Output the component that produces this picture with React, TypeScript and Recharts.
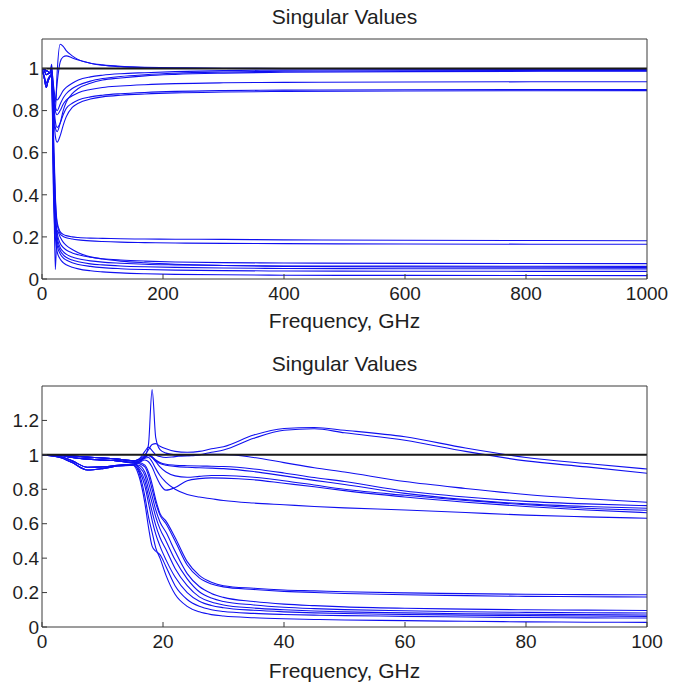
import React from 'react'
import { LineChart, Line, XAxis, YAxis, ReferenceLine } from 'recharts'

// ---- top panel: 0..1000 GHz ----
const X_TOP = [0, 4, 7, 10, 13, 16, 19, 22, 25, 30, 35, 40, 50, 60, 80, 100, 130, 170, 220, 300, 400, 600, 1000]

const T1 = [1, 0.995, 0.99, 0.985, 0.98, 0.99, 0.85, 0.8, 0.98, 1.115, 1.105, 1.085, 1.06, 1.042, 1.025, 1.017, 1.01, 1.006, 1.003, 1.001, 1.0, 0.999, 0.998]
const T2 = [1, 0.99, 0.97, 0.975, 0.98, 1.0, 0.88, 0.84, 0.93, 1.03, 1.055, 1.06, 1.05, 1.04, 1.025, 1.015, 1.008, 1.004, 1.002, 1.0, 0.999, 0.998, 0.997]
const T3 = [1, 0.995, 0.99, 0.985, 0.98, 0.99, 0.92, 0.86, 0.85, 0.87, 0.895, 0.91, 0.93, 0.945, 0.96, 0.968, 0.975, 0.98, 0.985, 0.99, 0.992, 0.994, 0.995]
const T4 = [1, 0.95, 0.91, 0.94, 0.96, 0.97, 0.9, 0.82, 0.8, 0.83, 0.86, 0.88, 0.905, 0.92, 0.94, 0.952, 0.962, 0.97, 0.977, 0.983, 0.987, 0.989, 0.99]
const T5 = [1, 0.99, 0.97, 0.975, 0.98, 1.02, 0.88, 0.8, 0.78, 0.8, 0.83, 0.85, 0.87, 0.885, 0.9, 0.91, 0.917, 0.923, 0.928, 0.932, 0.934, 0.936, 0.937]
const T6 = [1, 0.95, 0.91, 0.94, 0.96, 0.97, 0.85, 0.75, 0.72, 0.74, 0.78, 0.81, 0.835, 0.85, 0.865, 0.873, 0.88, 0.886, 0.891, 0.895, 0.897, 0.899, 0.9]
const T7 = [1, 0.995, 0.99, 0.985, 0.98, 0.99, 0.8, 0.68, 0.65, 0.68, 0.73, 0.77, 0.815, 0.835, 0.855, 0.865, 0.873, 0.879, 0.884, 0.888, 0.891, 0.893, 0.895]
const T8 = [1, 0.96, 0.93, 0.95, 0.965, 0.975, 0.83, 0.72, 0.7, 0.74, 0.8, 0.84, 0.88, 0.905, 0.93, 0.945, 0.955, 0.965, 0.972, 0.978, 0.982, 0.985, 0.987]
const B1 = [1, 0.995, 0.99, 0.985, 0.98, 0.98, 0.7, 0.4, 0.27, 0.225, 0.212, 0.206, 0.2, 0.197, 0.194, 0.193, 0.191, 0.19, 0.189, 0.188, 0.186, 0.184, 0.182]
const B2 = [1, 0.95, 0.91, 0.94, 0.96, 0.97, 0.65, 0.38, 0.26, 0.215, 0.202, 0.196, 0.19, 0.186, 0.181, 0.178, 0.175, 0.173, 0.171, 0.169, 0.168, 0.166, 0.165]
const B3 = [1, 0.99, 0.97, 0.975, 0.98, 0.99, 0.6, 0.33, 0.22, 0.17, 0.15, 0.138, 0.124, 0.115, 0.103, 0.096, 0.09, 0.085, 0.081, 0.078, 0.076, 0.074, 0.073]
const B4 = [1, 0.995, 0.99, 0.985, 0.98, 0.975, 0.55, 0.3, 0.2, 0.15, 0.13, 0.118, 0.104, 0.096, 0.086, 0.08, 0.075, 0.07, 0.067, 0.064, 0.062, 0.061, 0.06]
const B5 = [1, 0.96, 0.93, 0.95, 0.965, 0.97, 0.5, 0.27, 0.18, 0.135, 0.115, 0.103, 0.09, 0.082, 0.072, 0.067, 0.062, 0.058, 0.055, 0.052, 0.05, 0.049, 0.048]
const B6 = [1, 0.995, 0.99, 0.985, 0.98, 0.98, 0.45, 0.24, 0.16, 0.12, 0.1, 0.09, 0.077, 0.069, 0.06, 0.054, 0.049, 0.045, 0.042, 0.04, 0.038, 0.037, 0.036]
const B7 = [1, 0.95, 0.91, 0.94, 0.96, 0.965, 0.4, 0.2, 0.13, 0.095, 0.078, 0.068, 0.056, 0.048, 0.039, 0.034, 0.029, 0.025, 0.022, 0.02, 0.018, 0.017, 0.016]
const B8 = [1, 0.99, 0.97, 0.975, 0.98, 0.99, 0.55, 0.045, 0.23, 0.2, 0.175, 0.16, 0.14, 0.125, 0.105, 0.095, 0.085, 0.077, 0.07, 0.064, 0.06, 0.057, 0.055]

// ---- bottom panel: 0..100 GHz ----
const X_BOT = [0, 3, 5, 7.5, 10, 12.5, 15, 16, 17, 17.6, 18.2, 18.8, 19.5, 20.5, 22, 24, 26, 28, 30, 35, 40, 45, 50, 60, 70, 80, 90, 100]

const H1 = [1, 0.998, 0.993, 0.987, 0.982, 0.975, 0.965, 0.975, 1.0, 1.03, 1.06, 1.065, 1.05, 1.035, 1.02, 1.015, 1.02, 1.035, 1.047, 1.115, 1.153, 1.159, 1.143, 1.105, 1.04, 0.985, 0.95, 0.918]
const H2 = [1, 0.998, 0.993, 0.987, 0.982, 0.975, 0.965, 0.97, 0.99, 1.06, 1.38, 1.1, 1.03, 1.01, 1.0, 0.995, 1.0, 1.015, 1.028, 1.096, 1.143, 1.152, 1.128, 1.085, 1.02, 0.965, 0.93, 0.893]
const H3 = [1, 0.998, 0.993, 0.987, 0.982, 0.975, 0.965, 0.975, 1.02, 1.045, 1.025, 1.0, 0.99, 0.985, 0.99, 0.995, 1.0, 1.003, 1.003, 0.985, 0.955, 0.925, 0.9, 0.845, 0.805, 0.77, 0.745, 0.725]
const H4 = [1, 0.996, 0.985, 0.975, 0.97, 0.965, 0.955, 0.965, 0.99, 1.0, 0.99, 0.97, 0.955, 0.945, 0.94, 0.937, 0.935, 0.934, 0.932, 0.918, 0.895, 0.868, 0.845, 0.79, 0.755, 0.73, 0.715, 0.705]
const H5 = [1, 0.996, 0.985, 0.975, 0.97, 0.965, 0.955, 0.962, 0.985, 0.995, 0.985, 0.965, 0.95, 0.94, 0.933, 0.928, 0.925, 0.923, 0.92, 0.903, 0.878, 0.852, 0.828, 0.776, 0.74, 0.715, 0.7, 0.69]
const H6 = [1, 0.99, 0.965, 0.928, 0.93, 0.94, 0.945, 0.955, 0.97, 0.96, 0.93, 0.88, 0.83, 0.795, 0.81, 0.85, 0.862, 0.866, 0.865, 0.855, 0.835, 0.815, 0.792, 0.755, 0.725, 0.7, 0.68, 0.664]
const H7 = [1, 0.996, 0.985, 0.975, 0.97, 0.965, 0.955, 0.965, 0.985, 1.0, 0.985, 0.96, 0.93, 0.9, 0.878, 0.87, 0.875, 0.88, 0.88, 0.87, 0.85, 0.825, 0.8, 0.765, 0.735, 0.71, 0.69, 0.678]
const H8 = [1, 0.985, 0.955, 0.912, 0.92, 0.935, 0.94, 0.955, 0.98, 0.985, 0.96, 0.92, 0.88, 0.84, 0.8, 0.77, 0.755, 0.745, 0.735, 0.72, 0.71, 0.7, 0.692, 0.68, 0.665, 0.65, 0.64, 0.632]
const L1 = [1, 0.996, 0.985, 0.975, 0.97, 0.965, 0.955, 0.955, 0.94, 0.9, 0.83, 0.74, 0.66, 0.615, 0.52, 0.38, 0.3, 0.26, 0.24, 0.225, 0.215, 0.21, 0.205, 0.198, 0.194, 0.19, 0.188, 0.187]
const L2 = [1, 0.998, 0.993, 0.987, 0.982, 0.975, 0.965, 0.95, 0.93, 0.88, 0.8, 0.72, 0.65, 0.6, 0.5, 0.36, 0.285, 0.25, 0.233, 0.218, 0.207, 0.2, 0.195, 0.187, 0.182, 0.178, 0.176, 0.174]
const L3 = [1, 0.99, 0.965, 0.928, 0.93, 0.94, 0.945, 0.94, 0.9, 0.84, 0.76, 0.68, 0.61, 0.55, 0.44, 0.31, 0.235, 0.195, 0.172, 0.148, 0.133, 0.124, 0.117, 0.109, 0.104, 0.1, 0.098, 0.096]
const L4 = [1, 0.996, 0.985, 0.975, 0.97, 0.965, 0.955, 0.93, 0.88, 0.8, 0.72, 0.64, 0.57, 0.5, 0.39, 0.28, 0.205, 0.168, 0.148, 0.128, 0.115, 0.107, 0.101, 0.094, 0.089, 0.085, 0.083, 0.081]
const L5 = [1, 0.998, 0.993, 0.987, 0.982, 0.975, 0.965, 0.92, 0.85, 0.76, 0.67, 0.59, 0.52, 0.45, 0.34, 0.24, 0.175, 0.145, 0.128, 0.11, 0.1, 0.093, 0.088, 0.082, 0.077, 0.074, 0.072, 0.07]
const L6 = [1, 0.985, 0.955, 0.912, 0.92, 0.935, 0.94, 0.91, 0.82, 0.72, 0.62, 0.54, 0.47, 0.39, 0.29, 0.2, 0.15, 0.125, 0.112, 0.097, 0.088, 0.082, 0.078, 0.073, 0.069, 0.066, 0.064, 0.062]
const L7 = [1, 0.985, 0.955, 0.912, 0.92, 0.935, 0.94, 0.88, 0.72, 0.58, 0.47, 0.44, 0.42, 0.35, 0.24, 0.16, 0.12, 0.1, 0.09, 0.079, 0.073, 0.069, 0.066, 0.062, 0.058, 0.055, 0.053, 0.052]
const L8 = [1, 0.99, 0.965, 0.928, 0.93, 0.94, 0.945, 0.9, 0.76, 0.64, 0.55, 0.46, 0.4, 0.3, 0.19, 0.12, 0.088, 0.072, 0.064, 0.054, 0.048, 0.044, 0.041, 0.037, 0.033, 0.03, 0.028, 0.027]

const TOP_X_TICKS = [0, 200, 400, 600, 800, 1000]
const TOP_Y_TICKS = [0, 0.2, 0.4, 0.6, 0.8, 1]
const BOT_X_TICKS = [0, 20, 40, 60, 80, 100]
const BOT_Y_TICKS = [0, 0.2, 0.4, 0.6, 0.8, 1, 1.2]

const TITLE = 'Singular Values'
const X_LABEL = 'Frequency, GHz'

const BLUE = '#1010f0'
const AXIS = '#3a3a3a'
const TEXT = '#1e1e1e'
const FONT = '"Liberation Sans", Arial, Helvetica, sans-serif'

const W = 674
const H = 342

function buildRows(xs: number[], series: number[][]) {
  return xs.map((x, i) => {
    const row: Record<string, number> = { x }
    series.forEach((s, j) => {
      row['s' + j] = s[i]
    })
    return row
  })
}

interface PanelProps {
  xs: number[]
  series: number[][]
  xMax: number
  yMax: number
  xTicks: number[]
  yTicks: number[]
  marginTop: number
  axisHeight: number
  labelOffset: number
}

function Panel({ xs, series, xMax, yMax, xTicks, yTicks, marginTop, axisHeight, labelOffset }: PanelProps) {
  const rows = buildRows(xs, series)
  return (
    <LineChart
      width={W}
      height={H}
      data={rows}
      margin={{ top: marginTop, right: 26, bottom: 0, left: 0 }}
      style={{ fontFamily: FONT }}
    >
      <XAxis
        dataKey="x"
        type="number"
        domain={[0, xMax]}
        ticks={xTicks}
        interval={0}
        allowDataOverflow
        height={axisHeight}
        stroke={AXIS}
        tickSize={-5}
        tickMargin={13}
        tick={{ fontSize: 19, fill: TEXT }}
        label={{ value: X_LABEL, position: 'insideBottom', offset: labelOffset, fontSize: 21, fill: TEXT }}
      />
      <XAxis
        xAxisId="top"
        orientation="top"
        dataKey="x"
        type="number"
        domain={[0, xMax]}
        ticks={xTicks}
        interval={0}
        allowDataOverflow
        height={1}
        stroke={AXIS}
        tickSize={-5}
        tick={false}
      />
      <YAxis
        type="number"
        domain={[0, yMax]}
        ticks={yTicks}
        interval={0}
        allowDataOverflow
        width={42}
        stroke={AXIS}
        tickSize={-5}
        tickMargin={8}
        tick={{ fontSize: 19, fill: TEXT }}
      />
      <YAxis
        yAxisId="right"
        orientation="right"
        type="number"
        domain={[0, yMax]}
        ticks={yTicks}
        interval={0}
        allowDataOverflow
        width={1}
        stroke={AXIS}
        tickSize={-5}
        tick={false}
      />
      {series.map((_, j) => (
        <Line
          key={j}
          dataKey={'s' + j}
          type="monotone"
          stroke={BLUE}
          strokeWidth={1.1}
          dot={false}
          isAnimationActive={false}
        />
      ))}
      <ReferenceLine y={1} stroke="#1a1a1a" strokeWidth={2} />
    </LineChart>
  )
}

const titleStyle = (top: number): React.CSSProperties => ({
  position: 'absolute',
  left: 42,
  width: 605,
  top,
  textAlign: 'center',
  fontFamily: FONT,
  fontSize: 21,
  lineHeight: '24px',
  color: TEXT,
})

export default function App() {
  const topSeries = [T1, T2, T3, T4, T5, T6, T7, T8, B1, B2, B3, B4, B5, B6, B7, B8]
  const botSeries = [H1, H2, H3, H4, H5, H6, H7, H8, L1, L2, L3, L4, L5, L6, L7, L8]
  return (
    <div style={{ position: 'absolute', left: 0, top: 0, width: W, height: 684, background: '#fff' }}>
      <div style={titleStyle(5)}>{TITLE}</div>
      <Panel
        xs={X_TOP}
        series={topSeries}
        xMax={1000}
        yMax={1.14}
        xTicks={TOP_X_TICKS}
        yTicks={TOP_Y_TICKS}
        marginTop={38}
        axisHeight={63}
        labelOffset={14}
      />
      <div style={{ position: 'absolute', left: 0, top: H }}>
        <Panel
          xs={X_BOT}
          series={botSeries}
          xMax={100}
          yMax={1.4}
          xTicks={BOT_X_TICKS}
          yTicks={BOT_Y_TICKS}
          marginTop={43}
          axisHeight={57}
          labelOffset={6}
        />
      </div>
      <div style={titleStyle(352)}>{TITLE}</div>
    </div>
  )
}
